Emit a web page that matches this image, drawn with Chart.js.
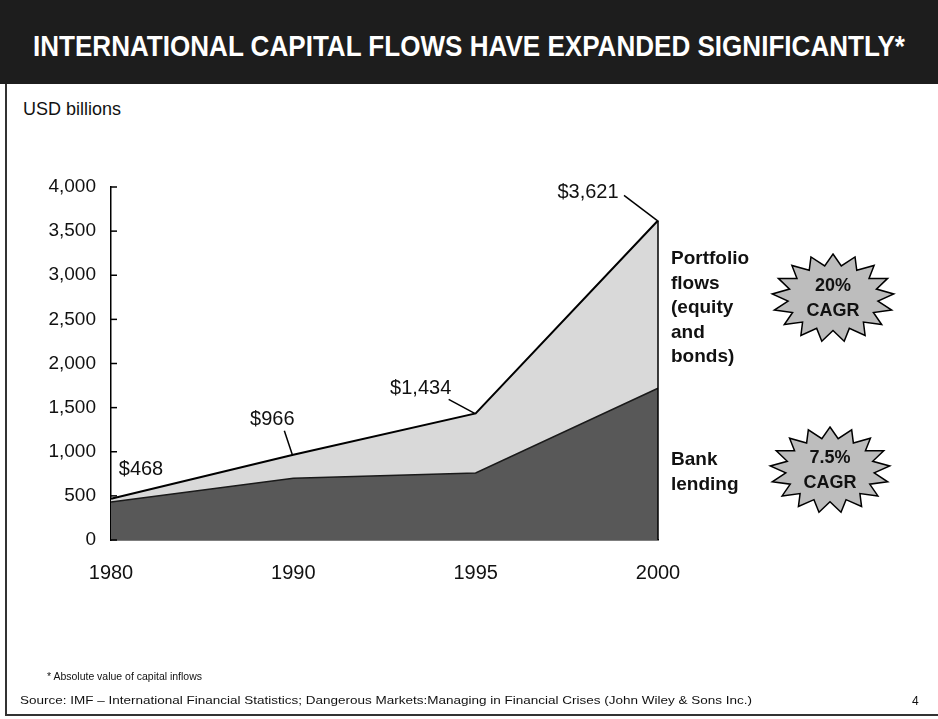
<!DOCTYPE html>
<html>
<head>
<meta charset="utf-8">
<title>International capital flows</title>
<script src="https://cdn.jsdelivr.net/npm/chart.js@4.4.0/dist/chart.umd.min.js"></script>
<style>
  body { margin: 0; width: 938px; height: 719px; overflow: hidden; background: #fff;
         font-family: "Liberation Sans", Arial, sans-serif; color: #111; position: relative; }
  #frame { position: absolute; left: 5px; top: 0; width: 940px; height: 714px;
           border-left: 2px solid #333; border-bottom: 2px solid #333; }
  #bar { position: absolute; left: 0; top: 0; width: 938px; height: 84px; background: #1d1d1d; }
  #title { position: absolute; left: 33px; top: 29px; color: #fff; white-space: nowrap;
           font: bold 30px "Liberation Sans Narrow", "Liberation Sans", Arial, sans-serif;
           transform-origin: left top; }
  #unit { position: absolute; left: 23px; top: 99px; font-size: 18px; }
  .side { position: absolute; left: 671px; font-weight: bold; font-size: 19px; line-height: 24.5px; }
  #note { position: absolute; left: 47px; top: 670px; font-size: 11px; white-space: nowrap; transform-origin: left top; }
  #source { position: absolute; left: 20px; top: 694px; font-size: 11px; white-space: nowrap; transform-origin: left top; }
  #page { position: absolute; left: 912px; top: 694px; font-size: 12px; }
  canvas { position: absolute; left: 0; top: 0; }
</style>
</head>
<body>
<div id="frame"></div>
<div id="bar"></div>
<div id="title">INTERNATIONAL CAPITAL FLOWS HAVE EXPANDED SIGNIFICANTLY*</div>
<div id="unit">USD billions</div>
<canvas id="flowChart" width="938" height="719"></canvas>
<div class="side" style="top:246px">Portfolio<br>flows<br>(equity<br>and<br>bonds)</div>
<div class="side" style="top:447px">Bank<br>lending</div>
<div id="note">* Absolute value of capital inflows</div>
<div id="source">Source: IMF &ndash; International Financial Statistics; Dangerous Markets:Managing in Financial Crises (John Wiley &amp; Sons Inc.)</div>
<div id="page">4</div>

<script>
var years = ['1980', '1990', '1995', '2000'];
var bankLending = [430, 700, 760, 1720];
var totalFlows = [468, 966, 1434, 3621];
var cagrPortfolio = ['20%', 'CAGR'];
var cagrBank = ['7.5%', 'CAGR'];

// stretch or squeeze a text block to a given width
function fitWidth(id, w) {
  var el = document.getElementById(id);
  el.style.transform = 'scaleX(' + (w / el.getBoundingClientRect().width) + ')';
}
fitWidth('title', 872);
fitWidth('source', 732);
fitWidth('note', 155);

// where each total label sits relative to its point, plus leader start
var labelOffsets = [
  { tx: 30, ty: -29, leader: false },
  { tx: -21, ty: -35, lx: -9, ly: -24, leader: true },
  { tx: -55, ty: -25, lx: -27, ly: -14, leader: true },
  { tx: -70, ty: -28, lx: -34, ly: -25, leader: true }
];

function line(ctx, x1, y1, x2, y2) {
  ctx.beginPath();
  ctx.moveTo(x1, y1);
  ctx.lineTo(x2, y2);
  ctx.stroke();
}

function burst(ctx, cx, cy, rx, ry, lines) {
  var spikes = 17;
  ctx.beginPath();
  for (var i = 0; i < spikes * 2; i++) {
    var a = -Math.PI / 2 + i * Math.PI / spikes;
    var r = (i % 2 === 0) ? 1 : 0.74;
    var px = cx + Math.cos(a) * rx * r;
    var py = cy + Math.sin(a) * ry * r;
    if (i === 0) ctx.moveTo(px, py); else ctx.lineTo(px, py);
  }
  ctx.closePath();
  ctx.fillStyle = '#bdbdbd';
  ctx.fill();
  ctx.strokeStyle = '#000';
  ctx.lineWidth = 1.5;
  ctx.stroke();
  ctx.fillStyle = '#111';
  ctx.font = 'bold 18px "Liberation Sans", Arial, sans-serif';
  ctx.textAlign = 'center';
  ctx.textBaseline = 'middle';
  ctx.fillText(lines[0], cx, cy - 12);
  ctx.fillText(lines[1], cx, cy + 13);
}

var overlay = {
  id: 'overlay',
  afterDatasetsDraw: function(chart) {
    var ctx = chart.ctx;
    var xs = chart.scales.x;
    var ys = chart.scales.y;
    var area = chart.chartArea;
    ctx.save();
    ctx.strokeStyle = '#000';
    ctx.lineWidth = 1.5;

    // small ticks pointing into the plot
    ys.ticks.forEach(function(t) {
      var py = ys.getPixelForValue(t.value);
      line(ctx, area.left, py, area.left + 6, py);
    });

    // right edge of the stacked area
    var last = totalFlows.length - 1;
    var lx = xs.getPixelForValue(last);
    line(ctx, lx, ys.getPixelForValue(totalFlows[last]), lx, area.bottom);

    // total labels with leaders
    ctx.font = '20px "Liberation Sans", Arial, sans-serif';
    ctx.fillStyle = '#111';
    ctx.textAlign = 'center';
    ctx.textBaseline = 'middle';
    for (var i = 0; i < totalFlows.length; i++) {
      var px = xs.getPixelForValue(i);
      var py = ys.getPixelForValue(totalFlows[i]);
      var o = labelOffsets[i];
      ctx.fillText('$' + totalFlows[i].toLocaleString('en-US'), px + o.tx, py + o.ty);
      if (o.leader) line(ctx, px + o.lx, py + o.ly, px - 1, py);
    }

    burst(ctx, 833, 298, 61, 44, cagrPortfolio);
    burst(ctx, 830, 470, 60, 43, cagrBank);
    ctx.restore();
  }
};

new Chart(document.getElementById('flowChart'), {
  type: 'line',
  data: {
    labels: years,
    datasets: [{
      label: 'Bank lending',
      data: bankLending,
      borderColor: '#1a1a1a',
      borderWidth: 1.5,
      backgroundColor: '#585858',
      fill: 'origin',
      pointRadius: 0,
      tension: 0
    }, {
      label: 'Portfolio flows (equity and bonds)',
      data: totalFlows,
      borderColor: '#000',
      borderWidth: 2,
      backgroundColor: '#d9d9d9',
      fill: 'origin',
      pointRadius: 0,
      tension: 0
    }]
  },
  options: {
    responsive: false,
    animation: false,
    layout: { padding: { top: 187, right: 280, bottom: 0, left: 0 } },
    plugins: {
      legend: { display: false },
      tooltip: { enabled: false }
    },
    scales: {
      x: {
        offset: false,
        grid: { display: false },
        border: { display: true, color: '#000', width: 1.5 },
        ticks: {
          color: '#111',
          font: { size: 20, family: '"Liberation Sans", Arial, sans-serif' },
          padding: 13,
          maxRotation: 0
        },
        afterFit: function(s) { s.height = 179; }
      },
      y: {
        min: 0,
        max: 4000,
        grid: { display: false },
        border: { display: true, color: '#000', width: 1.5 },
        ticks: {
          stepSize: 500,
          color: '#111',
          font: { size: 19, family: '"Liberation Sans", Arial, sans-serif' },
          padding: 7,
          callback: function(v) { return v.toLocaleString('en-US'); }
        },
        afterFit: function(s) { s.width = 111; }
      }
    }
  },
  plugins: [overlay]
});
</script>
</body>
</html>
